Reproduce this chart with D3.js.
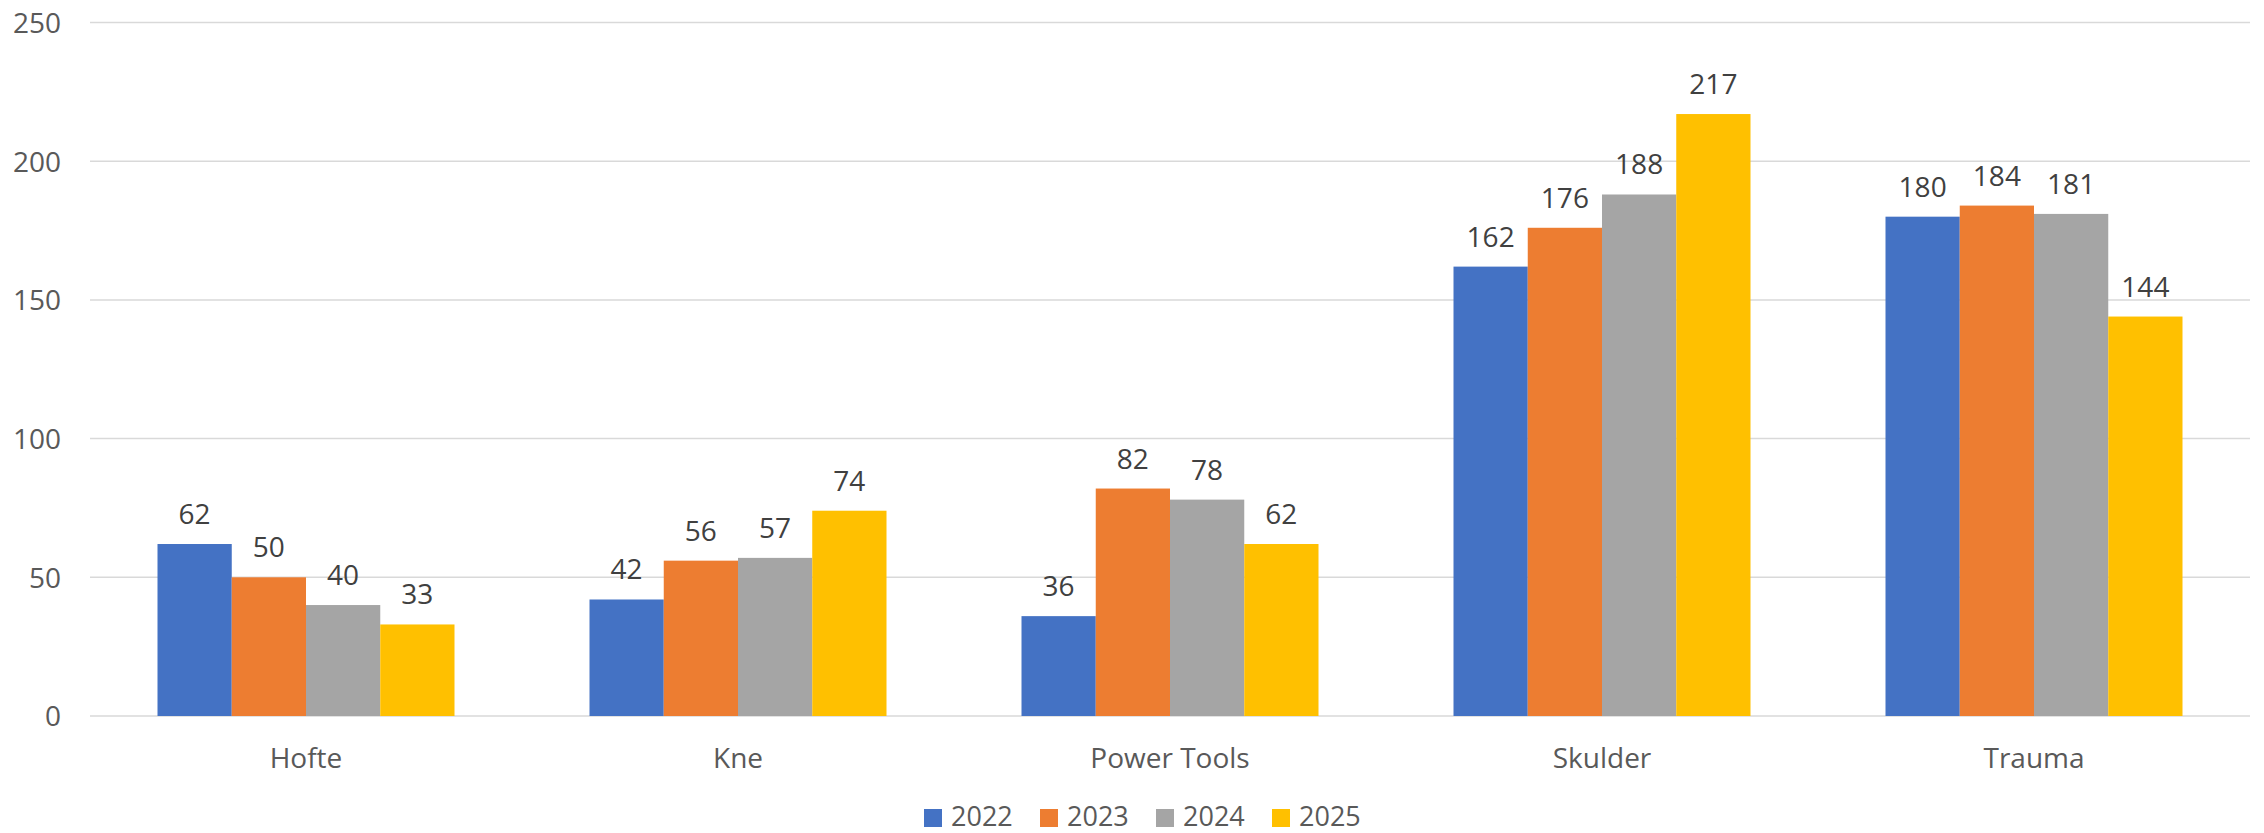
<!DOCTYPE html>
<html><head><meta charset="utf-8">
<script src="https://cdn.jsdelivr.net/npm/d3@7"></script>
<style>
html,body{margin:0;padding:0;background:#fff;}
svg{display:block;font-family:"Open Sans","Liberation Sans",sans-serif;}
</style></head>
<body><svg id="chart" width="2264" height="833"></svg>
<script>
const categories = ["Hofte", "Kne", "Power Tools", "Skulder", "Trauma"];
const seriesNames = ["2022", "2023", "2024", "2025"];
const values2022 = [62, 42, 36, 162, 180];
const values2023 = [50, 56, 82, 176, 184];
const values2024 = [40, 57, 78, 188, 181];
const values2025 = [33, 74, 62, 217, 144];
const colors = ["#4472C4", "#ED7D31", "#A5A5A5", "#FFC000"];
const yTicks = [0, 50, 100, 150, 200, 250];

(function () {
const seriesValues = [values2022, values2023, values2024, values2025];
const svg = d3.select("#chart");
const mLeft = 90, mRight = 2250, mTop = 22.5, mBottom = 716;

const x0 = d3.scaleBand().domain(categories).range([mLeft, mRight]).paddingInner(0.3125).paddingOuter(0.15625);
const x1 = d3.scaleBand().domain(seriesNames).range([0, x0.bandwidth()]).padding(0);
const y = d3.scaleLinear().domain([0, 250]).range([mBottom, mTop]);

svg.append("g").selectAll("line").data(yTicks).join("line")
  .attr("x1", mLeft).attr("x2", mRight)
  .attr("y1", d => y(d)).attr("y2", d => y(d))
  .attr("stroke", "#d9d9d9").attr("stroke-width", 1.5);

const yAxis = d3.axisLeft(y).tickValues(yTicks).tickSize(0).tickPadding(0);
const gy = svg.append("g").attr("transform", `translate(61,0)`).call(yAxis);
gy.select(".domain").remove();
gy.selectAll("text").attr("font-size", 28).attr("fill", "#595959")
  .attr("font-family", "'Open Sans','Liberation Sans',sans-serif").attr("dy", "0.35em");

const groups = svg.append("g").selectAll("g").data(categories).join("g")
  .attr("transform", d => `translate(${x0(d)},0)`);
groups.each(function(cat, ci) {
  const g = d3.select(this);
  const data = seriesNames.map((s, si) => ({s, si, v: seriesValues[si][ci]}));
  g.selectAll("rect").data(data).join("rect")
    .attr("x", d => x1(d.s)).attr("width", x1.bandwidth())
    .attr("y", d => y(d.v)).attr("height", d => y(0) - y(d.v))
    .attr("fill", d => colors[d.si]);
  g.selectAll("text").data(data).join("text")
    .attr("x", d => x1(d.s) + x1.bandwidth() / 2)
    .attr("y", d => y(d.v) - 20)
    .attr("text-anchor", "middle").attr("font-size", 28).attr("fill", "#404040")
    .text(d => d.v);
});

const xAxis = d3.axisBottom(x0).tickSize(0).tickPadding(0);
const gx = svg.append("g").attr("transform", `translate(0,${mBottom})`).call(xAxis);
gx.select(".domain").remove();
gx.selectAll("text").attr("font-size", 28).attr("fill", "#595959")
  .attr("font-family", "'Open Sans','Liberation Sans',sans-serif").attr("dy", 0).attr("y", 52);

const legend = svg.append("g").selectAll("g").data(seriesNames).join("g")
  .attr("transform", (d, i) => `translate(${924 + i * 116},809)`);
legend.append("rect").attr("width", 18).attr("height", 18).attr("fill", (d, i) => colors[i]);
legend.append("text").attr("x", 27).attr("y", 17).attr("font-size", 27).attr("fill", "#595959").text(d => d);
})();
</script></body></html>
